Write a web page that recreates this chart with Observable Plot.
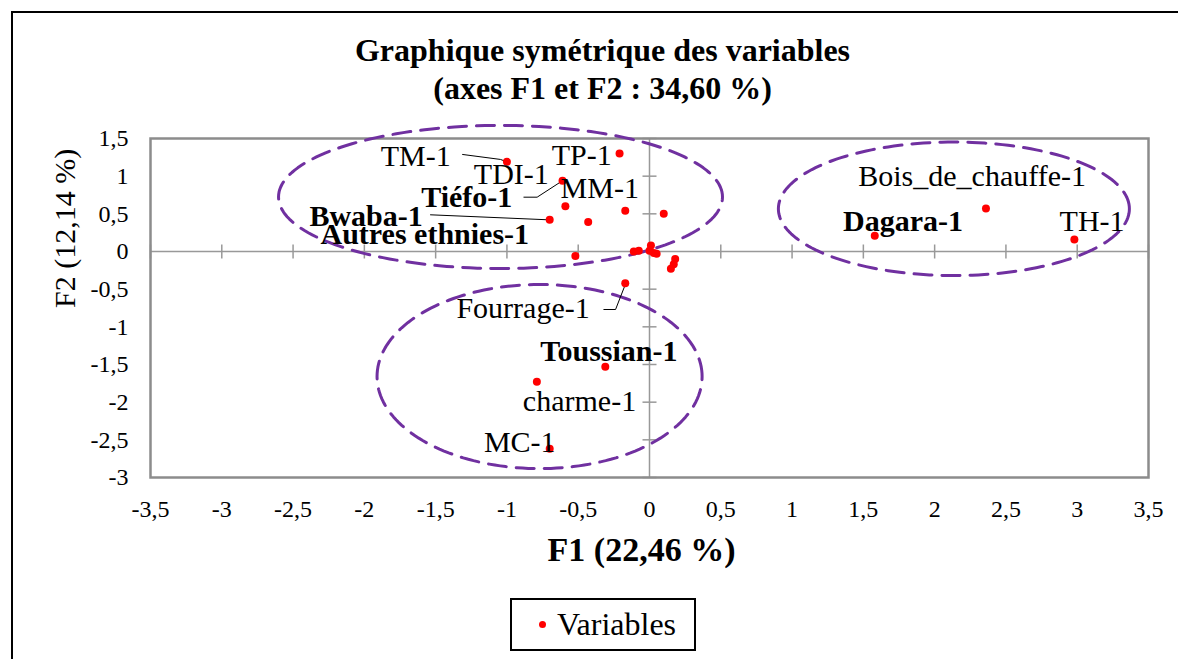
<!DOCTYPE html>
<html><head><meta charset="utf-8">
<script src="https://cdn.jsdelivr.net/npm/d3@7"></script>
<script src="https://cdn.jsdelivr.net/npm/@observablehq/plot@0.6"></script>
<style>
body{margin:0;background:#fff;width:1178px;height:659px;overflow:hidden;position:relative;font-family:"Liberation Serif",serif;}
#border{position:absolute;left:11px;top:11px;width:1300px;height:800px;border-left:2px solid #000;border-top:2px solid #000;}
#chart{position:absolute;left:0;top:0;}
#chart svg, #chart svg text{font-family:"Liberation Serif",serif !important;}
#legend{position:absolute;left:510px;top:598px;width:182px;height:49px;border:2px solid #000;background:#fff;}
#legend .dot{position:absolute;left:27px;top:21px;width:7px;height:7px;border-radius:50%;background:#ff0000;}
#legend .lab{position:absolute;left:45px;top:5px;font-size:32px;line-height:38px;color:#000;}
</style></head><body>
<div id="border"></div>
<div id="chart"></div>
<div id="legend"><span class="dot"></span><span class="lab">Variables</span></div>
<script>
// ---- data ----
const titleLines = ["Graphique symétrique des variables", "(axes F1 et F2 : 34,60 %)"];
const xTitle = "F1 (22,46 %)";
const yTitle = "F2 (12,14 %)";
const xTicks = [-3.5,-3,-2.5,-2,-1.5,-1,-0.5,0,0.5,1,1.5,2,2.5,3,3.5];
const yTicks = [-3,-2.5,-2,-1.5,-1,-0.5,0,0.5,1,1.5];

const pointX = [-1.00,-0.21,-0.61,-0.59,-0.70,-0.43,-0.17,0.10,-0.52,-0.11,-0.075,0.01,0.00,0.03,0.05,0.18,0.17,0.15,-0.17,-0.31,-0.79,-0.70,2.36,1.58,2.98];
const pointY = [1.19,1.30,0.94,0.60,0.42,0.39,0.54,0.50,-0.06,0.00,0.01,0.08,0.01,-0.02,-0.03,-0.10,-0.17,-0.23,-0.42,-1.53,-1.73,-2.62,0.57,0.21,0.16];

const labelText = ["TM-1","TP-1","TDI-1","MM-1","Tiéfo-1","Bwaba-1","Autres ethnies-1","Fourrage-1","Toussian-1","charme-1","MC-1","Bois_de_chauffe-1","Dagara-1","TH-1"];
const labelX = [-1.64,-0.475,-0.969,-0.349,-1.282,-1.988,-1.576,-0.887,-0.285,-0.491,-0.910,2.263,1.778,3.104];
const labelY = [1.262,1.275,1.023,0.843,0.724,0.467,0.226,-0.761,-1.325,-1.99,-2.533,0.996,0.398,0.398];
const boldLabels = ["Tiéfo-1","Bwaba-1","Autres ethnies-1","Toussian-1","Dagara-1"];

const leaderId = ["TM","TM","TM","Tiefo","Tiefo","Tiefo","Bwaba","Bwaba","Fourrage","Fourrage","Fourrage"];
const leaderX = [-1.311,-1.045,-1.00,-0.881,-0.788,-0.61,-1.536,-0.70,-0.320,-0.238,-0.17];
const leaderY = [1.288,1.222,1.19,0.721,0.721,0.94,0.487,0.42,-0.770,-0.770,-0.44];

const groupCx = [-1.045, 2.135, -0.771];
const groupCy = [0.724, 0.567, -1.660];
const groupRx = [1.557, 1.231, 1.140];
const groupRy = [0.950, 0.886, 1.222];

// ---- build ----
const FF = "Liberation Serif";
const fmt = d => String(d).replace(".", ",");
const points = pointX.map((x, i) => ({x, y: pointY[i]}));
const labels = labelText.map((t, i) => ({t, x: labelX[i], y: labelY[i], bold: boldLabels.includes(t)}));
const leaders = leaderId.map((id, i) => ({id, x: leaderX[i], y: leaderY[i]}));
const ellipses = [];
groupCx.forEach((cx, g) => {
  for (let k = 0; k <= 180; k++) {
    const a = k / 180 * 2 * Math.PI;
    ellipses.push({g, x: cx + groupRx[g] * Math.cos(a), y: groupCy[g] + groupRy[g] * Math.sin(a)});
  }
});
const vtick = {draw(ctx, size){const r = Math.sqrt(size/Math.PI); ctx.moveTo(0,-r); ctx.lineTo(0,r);}};
const htick = {draw(ctx, size){const r = Math.sqrt(size/Math.PI); ctx.moveTo(-r,0); ctx.lineTo(r,0);}};

const chart = Plot.plot({
  width: 1178, height: 659,
  marginLeft: 150, marginRight: 30, marginTop: 138, marginBottom: 182,
  style: {fontFamily: FF, fontSize: "24px", color: "#000", background: "transparent"},
  x: {domain: [-3.5, 3.5], ticks: xTicks, tickFormat: fmt, label: null},
  y: {domain: [-3, 1.5], ticks: yTicks, tickFormat: fmt, label: null},
  marks: [
    Plot.axisX({ticks: xTicks, tickFormat: fmt, tickSize: 0, tickPadding: 22, fontSize: 24, fontFamily: FF, label: null}),
    Plot.axisY({ticks: yTicks, tickFormat: fmt, tickSize: 0, tickPadding: 22, fontSize: 24, fontFamily: FF, label: null}),
    Plot.ruleX([0], {stroke: "#999", strokeWidth: 1.5}),
    Plot.ruleY([0], {stroke: "#999", strokeWidth: 1.5}),
    Plot.dot(xTicks, {x: d => d, y: () => 0, symbol: vtick, r: 7, stroke: "#999", strokeWidth: 1.5}),
    Plot.dot(yTicks, {x: () => 0, y: d => d, symbol: htick, r: 7, stroke: "#999", strokeWidth: 1.5}),
    Plot.frame({stroke: "#8c8c8c", strokeWidth: 2.5}),
    Plot.line(ellipses, {x: "x", y: "y", z: "g", stroke: "#7030A0", strokeWidth: 3, strokeDasharray: "18,10", curve: "linear"}),
    Plot.line(leaders, {x: "x", y: "y", z: "id", stroke: "#000", strokeWidth: 1}),
    Plot.dot(points, {x: "x", y: "y", r: 4, fill: "#ff0000", stroke: "none"}),
    Plot.text(labels.filter(d => !d.bold), {x: "x", y: "y", text: "t", fontSize: 30, fontFamily: FF, fill: "#000", textAnchor: "middle", lineAnchor: "middle"}),
    Plot.text(labels.filter(d => d.bold), {x: "x", y: "y", text: "t", fontSize: 30, fontFamily: FF, fontWeight: "bold", fill: "#000", textAnchor: "middle", lineAnchor: "middle"}),
    Plot.text([titleLines[0]], {frameAnchor: "top", dx: -47, dy: -88, text: d => d, fontSize: 32, fontFamily: FF, fontWeight: "bold", lineAnchor: "middle"}),
    Plot.text([titleLines[1]], {frameAnchor: "top", dx: -47, dy: -50, text: d => d, fontSize: 32, fontFamily: FF, fontWeight: "bold", lineAnchor: "middle"}),
    Plot.text([xTitle], {frameAnchor: "bottom", dx: -8, dy: 73, text: d => d, fontSize: 34, fontFamily: FF, fontWeight: "bold", lineAnchor: "middle"}),
    Plot.text([yTitle], {frameAnchor: "left", dx: -85, text: d => d, fontSize: 30, fontFamily: FF, rotate: -90, lineAnchor: "middle"})
  ]
});
document.getElementById("chart").appendChild(chart);
</script>
</body></html>
